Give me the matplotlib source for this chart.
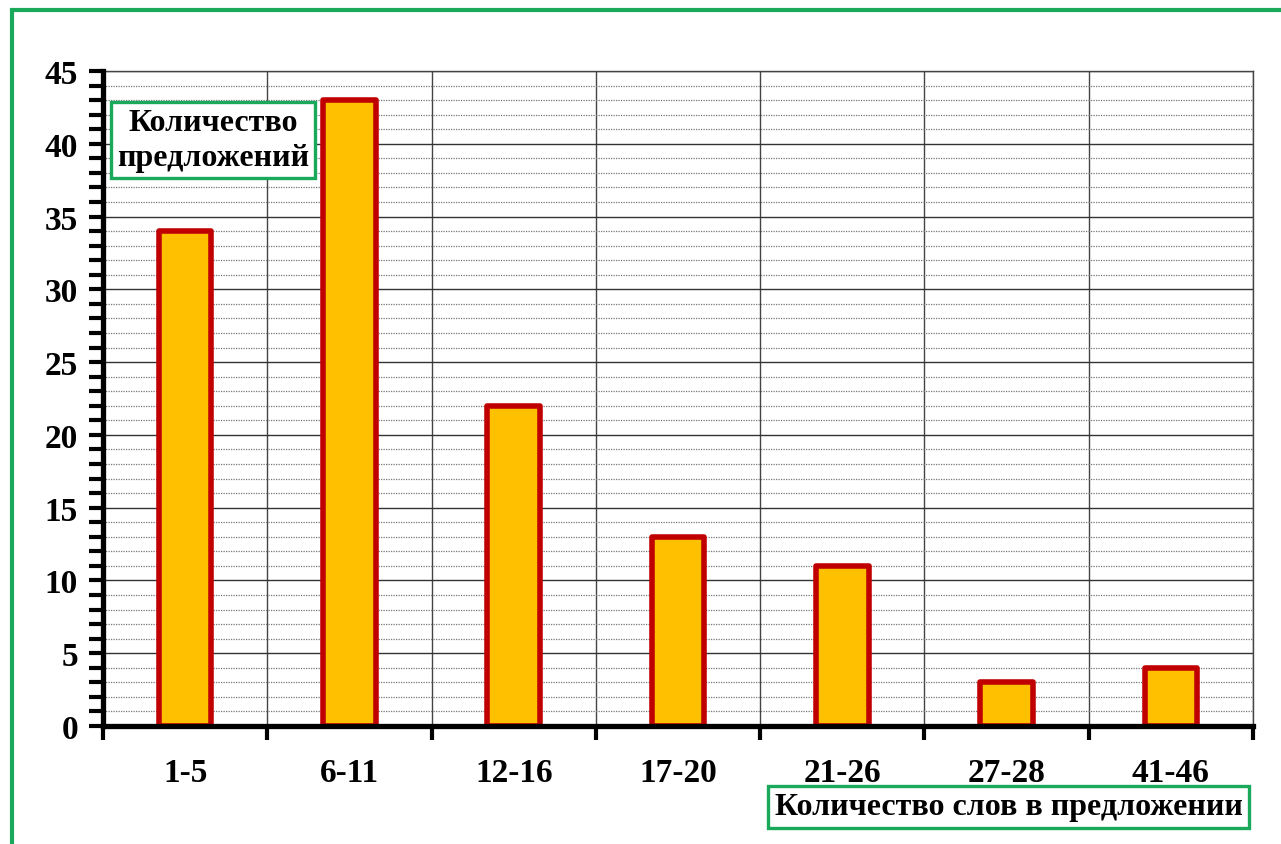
import numpy as np
import matplotlib.pyplot as plt
from matplotlib.patches import Rectangle

categories = ['1-5', '6-11', '12-16', '17-20', '21-26', '27-28', '41-46']
counts = [34, 43, 22, 13, 11, 3, 4]

y_label = 'Количество\nпредложений'
x_label = 'Количество слов в предложении'

plt.rcParams['font.family'] = ['Liberation Serif', 'DejaVu Serif']
plt.rcParams['font.weight'] = 'bold'

green = '#1aa85a'

fig = plt.figure(figsize=(12.81, 8.45), dpi=100)
ax = fig.add_axes([0.0804, 0.1396, 0.8977, 0.7752])

x = np.arange(len(categories))
ax.bar(x, counts, width=0.32, color='#ffc000', edgecolor='#c00000',
       linewidth=4.0, joinstyle='round', zorder=3)

ax.set_xlim(-0.5, len(categories) - 0.5)
ax.set_ylim(0, 45)

# y ticks: major every 5, minor every 1
ax.set_yticks(np.arange(0, 46, 5))
ax.set_yticks(np.arange(0, 46, 1), minor=True)
ax.set_yticklabels([str(v) for v in range(0, 46, 5)], fontsize=24, fontweight='bold')

# x: labels at centres, ticks/grid on category boundaries
ax.set_xticks(x)
ax.set_xticklabels(categories, fontsize=24, fontweight='bold')
ax.set_xticks(np.arange(-0.5, len(categories), 1), minor=True)

ax.tick_params(axis='x', which='major', length=0, pad=22)
ax.tick_params(axis='x', which='minor', length=10, width=3, direction='out', color='black')
ax.tick_params(axis='y', which='both', length=10, width=3, direction='out', color='black', pad=8)

ax.grid(axis='y', which='major', color='#333333', linewidth=1.0, zorder=0)
ax.grid(axis='y', which='minor', color='#777777', linewidth=0.9, linestyle=(0, (1, 1)), zorder=0)
ax.grid(axis='x', which='minor', color='#444444', linewidth=1.0, zorder=0)
ax.set_axisbelow(True)

for side in ['left', 'bottom']:
    ax.spines[side].set_linewidth(3.8)
    ax.spines[side].set_color('black')
    ax.spines[side].set_zorder(4)
for side in ['top', 'right']:
    ax.spines[side].set_linewidth(1.0)
    ax.spines[side].set_color('#444444')

# axis title boxes
fig.text(0.1663, 0.833, y_label, ha='center', va='center', fontsize=23,
         fontweight='bold', linespacing=1.25,
         bbox=dict(boxstyle='square,pad=0.2', facecolor='white', edgecolor=green, linewidth=2.4),
         zorder=10)
fig.text(0.7875, 0.0438, x_label, ha='center', va='center', fontsize=23,
         fontweight='bold',
         bbox=dict(boxstyle='square,pad=0.2', facecolor='white', edgecolor=green, linewidth=2.4))

# green frame around the picture
fig.patches.append(Rectangle((12 / 1281, -0.05), 1.1, 1 - 11 / 845 + 0.05,
                             transform=fig.transFigure, fill=False,
                             edgecolor=green, linewidth=3, zorder=0))

fig.savefig('out.png', dpi=100)
